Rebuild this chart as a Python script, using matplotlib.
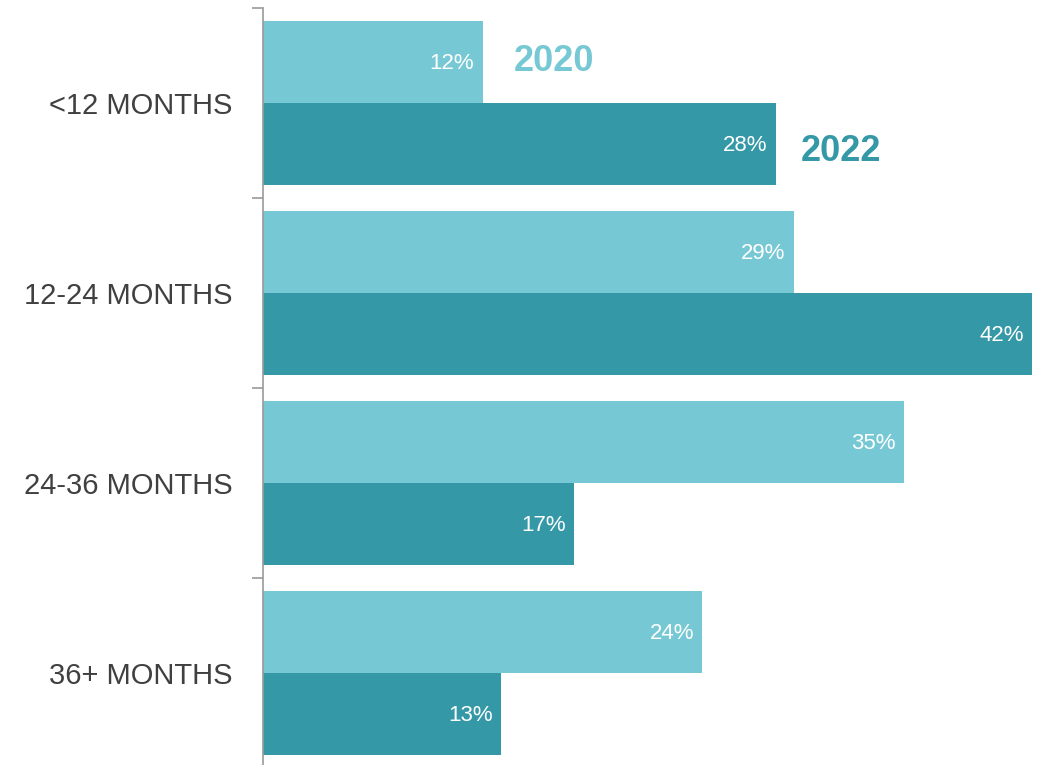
import matplotlib
matplotlib.use("Agg")
import matplotlib.pyplot as plt
import numpy as np

# tenure buckets, top to bottom
CATEGORIES = ["<12 MONTHS", "12-24 MONTHS", "24-36 MONTHS", "36+ MONTHS"]
SHARE_2020 = [12, 29, 35, 24]
SHARE_2022 = [28, 42, 17, 13]
YEARS = ["2020", "2022"]

LIGHT = "#76C9D4"
DARK = "#3498A6"
TEXT = "#404040"
AXIS = "#9a9a9a"

plt.rcParams["font.family"] = ["Liberation Sans Narrow", "Liberation Sans", "DejaVu Sans"]

fig = plt.figure(figsize=(10.4, 7.65), dpi=100)
ax = fig.add_axes([263 / 1040, -3 / 765, 777 / 1040, 760 / 765])

y = np.arange(len(CATEGORIES))
h = 0.434
bars20 = ax.barh(y - h / 2, SHARE_2020, height=h, color=LIGHT, linewidth=0)
bars22 = ax.barh(y + h / 2, SHARE_2022, height=h, color=DARK, linewidth=0)

for bars, vals in ((bars20, SHARE_2020), (bars22, SHARE_2022)):
    for b, v in zip(bars, vals):
        ax.annotate(f"{v}%", (v, b.get_y() + b.get_height() / 2),
                    xytext=(-6, -1), textcoords="offset points",
                    ha="right", va="center", color="white", fontsize=16)

# series names sit beside the first pair of bars
ax.annotate(YEARS[0], (SHARE_2020[0], y[0] - h / 2), xytext=(22, 0),
            textcoords="offset points", ha="left", va="center",
            color=LIGHT, fontsize=26, fontweight="bold")
ax.annotate(YEARS[1], (SHARE_2022[0], y[0] + h / 2), xytext=(18, -5),
            textcoords="offset points", ha="left", va="center",
            color=DARK, fontsize=26, fontweight="bold")

ax.set_xlim(0, 42.44)
ax.set_ylim(len(CATEGORIES) - 0.5, -0.5)
ax.set_yticks(y)
ax.set_yticklabels(CATEGORIES, fontsize=21, color=TEXT)
ax.set_yticks(np.arange(len(CATEGORIES) + 1) - 0.5, minor=True)
ax.tick_params(axis="y", which="major", length=0, pad=22)
ax.tick_params(axis="y", which="minor", length=8, width=1.2, color=AXIS)
ax.set_xticks([])
for side in ("top", "right", "bottom"):
    ax.spines[side].set_visible(False)
ax.spines["left"].set_color(AXIS)
ax.spines["left"].set_linewidth(1.2)

fig.savefig("out.png", dpi=100)
